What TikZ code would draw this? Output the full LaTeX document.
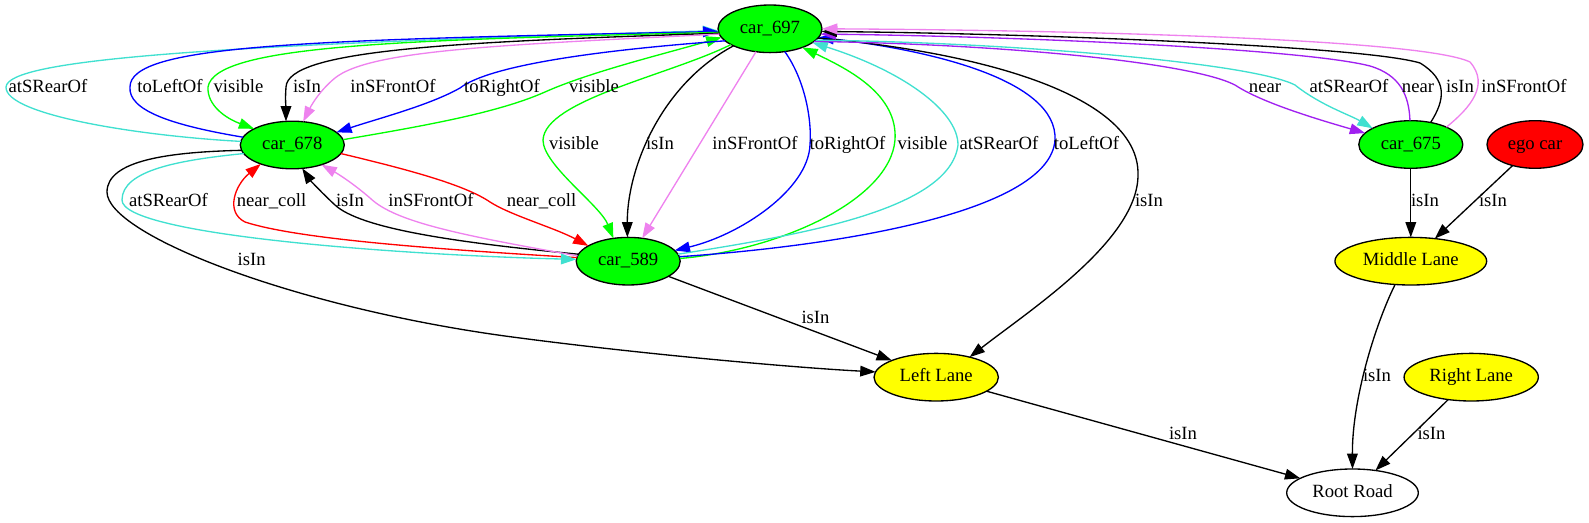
\documentclass[tikz,border=0pt]{standalone}
\usepackage{fontspec}
\setmainfont{Liberation Serif}
\usetikzlibrary{arrows.meta,shapes.geometric}
\definecolor{gvgreen}{RGB}{0,255,0}
\definecolor{gvturq}{RGB}{64,224,208}
\definecolor{gvviolet}{RGB}{238,130,238}
\definecolor{gvpurple}{RGB}{160,32,240}
\definecolor{gvblue}{RGB}{0,0,255}
\definecolor{gvred}{RGB}{255,0,0}
\definecolor{gvyellow}{RGB}{255,255,0}
\begin{document}
\begin{tikzpicture}[x=0.75pt,y=-0.75pt,
  every node/.style={font=\fontsize{14pt}{16pt}\selectfont},
  gv/.style={ellipse, draw=black, line width=1pt, inner sep=0pt, outer sep=0pt, minimum height=35.7pt, text height=7pt, text depth=0pt},
  car/.style={gv, fill=gvgreen, minimum width=78pt},
  lane/.style={gv, fill=gvyellow},
  rel/.style={line width=1pt, -{Triangle[length=11.5pt,width=8pt]}},
  lbl/.style={anchor=base, inner sep=0pt}]
\useasboundingbox (0,0) rectangle (1589,523);

% nodes
\node[car] (A) at (770,28.8) {car\_697};
\node[car] (B) at (292.3,145) {car\_678};
\node[car] (C) at (628.2,261.2) {car\_589};
\node[car] (D) at (1410.8,144.5) {car\_675};
\node[gv, fill=gvred, minimum width=72pt] (E) at (1535,144.5) {ego car};
\node[lane, minimum width=93.3pt] (L) at (936.2,377.2) {Left Lane};
\node[lane, minimum width=113.8pt] (M) at (1410.8,261.2) {Middle Lane};
\node[lane, minimum width=100.7pt] (R) at (1471.2,377.2) {Right Lane};
\node[gv, fill=white, minimum width=98.7pt] (RR) at (1352.5,492.8) {Root Road};

% car_678 -> car_697
\draw[rel, gvturq] (B.176) .. controls (140,136) and (5,115) .. (6,87) .. controls (8,60) and (200,45) .. (A.182);
\draw[rel, gvblue] (B.171) .. controls (170,125) and (128,110) .. (130,87) .. controls (130,45) and (300,40) .. (A.183);
\draw[rel, gvgreen] (B.6) .. controls (430,125) and (500,112) .. (545,92) .. controls (590,72) and (660,55) .. (A.190);
% car_697 -> car_678
\draw[rel, gvgreen] (A.184) .. controls (400,40) and (215,45) .. (208,87) .. controls (207,105) and (225,118) .. (B.157);
\draw[rel, black] (A.185) .. controls (450,42) and (288,50) .. (286,87) .. controls (285,100) and (286,108) .. (B.105);
\draw[rel, gvviolet] (A.186) .. controls (500,45) and (370,50) .. (335,78) .. controls (318,92) and (310,108) .. (B.65);
\draw[rel, gvblue] (A.195) .. controls (600,50) and (490,65) .. (460,88) .. controls (430,105) and (380,118) .. (B.16);

% car_697 -> car_589
\draw[rel, gvgreen] (A.202) .. controls (670,75) and (545,100) .. (543,140) .. controls (543,165) and (600,205) .. (C.123);
\draw[rel, black] (A.205) .. controls (660,85) and (627,170) .. (C.92);
\draw[rel, gvviolet] (A) -- (C);
\draw[rel, gvblue] (A.303) .. controls (805,80) and (812,120) .. (810,145) .. controls (808,190) and (740,235) .. (C.13);
% car_589 -> car_697
\draw[rel, gvgreen] (C.3) .. controls (780,250) and (890,200) .. (895,140) .. controls (898,95) and (850,70) .. (A.330);
\draw[rel, gvturq] (C.8) .. controls (800,235) and (950,210) .. (958,145) .. controls (958,110) and (900,70) .. (A.342);
\draw[rel, gvblue] (C.5) .. controls (850,245) and (1050,210) .. (1055,140) .. controls (1058,80) and (930,50) .. (A.350);

% car_697 -> Left Lane
\draw[rel, black] (A.349) .. controls (960,50) and (1140,90) .. (1138,175) .. controls (1138,240) and (1030,310) .. (L.31);

% car_697 <-> car_675
\draw[rel, gvpurple] (A.344) .. controls (1000,44) and (1190,62) .. (1235,85) .. controls (1262,103) and (1320,120) .. (D.166);
\draw[rel, gvturq] (A.346) .. controls (1000,42) and (1250,62) .. (1295,85) .. controls (1320,105) and (1350,115) .. (D.157);
\draw[rel, gvpurple] (D.92) .. controls (1409,95) and (1400,75) .. (1370,66) .. controls (1300,48) and (1000,36) .. (A.354);
\draw[rel, black] (D.48) .. controls (1445,100) and (1448,80) .. (1420,63) .. controls (1360,45) and (1000,33) .. (A.357);
\draw[rel, gvviolet] (D.26) .. controls (1470,108) and (1490,85) .. (1470,62) .. controls (1420,38) and (1050,30) .. (A.0);

% car_678 <-> car_589
\draw[rel, gvred] (B.350) .. controls (410,170) and (465,185) .. (490,202) .. controls (510,215) and (555,228) .. (C.159);
\draw[rel, gvred] (C.176) .. controls (450,250) and (300,240) .. (245,222) .. controls (225,212) and (235,185) .. (B.211);
\draw[rel, black] (C.172) .. controls (450,242) and (360,228) .. (335,205) .. controls (322,193) and (310,180) .. (B.293);
\draw[rel, gvviolet] (C.174) .. controls (460,235) and (395,222) .. (370,198) .. controls (355,185) and (340,175) .. (B.326);
\draw[rel, gvturq] (B.190) .. controls (180,160) and (122,170) .. (122,200) .. controls (122,235) and (400,255) .. (C.178);
\draw[rel, black] (B.186) .. controls (170,152) and (107,160) .. (107,192) .. controls (107,235) and (300,310) .. (520,338) .. controls (650,355) and (800,368) .. (L.175);

% lanes and road
\draw[rel] (C) -- (L);
\draw[rel] (D) -- (M);
\draw[rel] (E) -- (M);
\draw[rel] (L) -- (RR);
\draw[rel] (R) -- (RR);
\draw[rel] (M.236) .. controls (1375,325) and (1352,400) .. (RR.north);

% labels row 1
\node[lbl] (t1) at (48,92.3) {atSRearOf};
\node[lbl] (t2) at (170,92.3) {toLeftOf};
\node[lbl] (t3) at (238.5,92.3) {visible};
\node[lbl] (t4) at (307,92.3) {isIn};
\node[lbl] (t5) at (393,92.3) {inSFrontOf};
\node[lbl] (t6) at (502,92.3) {toRightOf};
\node[lbl] (t7) at (594,92.3) {visible};
\node[lbl] (t8) at (1265,92.3) {near};
\node[lbl] (t9) at (1349,92.3) {atSRearOf};
\node[lbl] (t10) at (1418,92.3) {near};
\node[lbl] (t11) at (1460,92.3) {isIn};
\node[lbl] (t12) at (1524,92.3) {inSFrontOf};
% row 2
\node[lbl] (m1) at (574,150) {visible};
\node[lbl] (m2) at (660,150) {isIn};
\node[lbl] (m3) at (755,150) {inSFrontOf};
\node[lbl] (m4) at (847.5,150) {toRightOf};
\node[lbl] (m5) at (922.5,150) {visible};
\node[lbl] (m6) at (999,150) {atSRearOf};
\node[lbl] (m7) at (1086.5,150) {toLeftOf};
% row 3
\node[lbl] (b1) at (168.5,207) {atSRearOf};
\node[lbl] (b2) at (271.5,207) {near\_coll};
\node[lbl] (b3) at (350,207) {isIn};
\node[lbl] (b4) at (431,207) {inSFrontOf};
\node[lbl] (b5) at (541.5,207) {near\_coll};
\node[lbl] (b6) at (1149,207) {isIn};
\node[lbl] (b7) at (1425,207) {isIn};
\node[lbl] (b8) at (1493,207) {isIn};
% others
\node[lbl] (o1) at (251.7,265.7) {isIn};
\node[lbl] (o2) at (815.5,324) {isIn};
\node[lbl] (o3) at (1377,381.7) {isIn};
\node[lbl] (o4) at (1183,439.3) {isIn};
\node[lbl] (o5) at (1431.5,440) {isIn};
\end{tikzpicture}
\end{document}
